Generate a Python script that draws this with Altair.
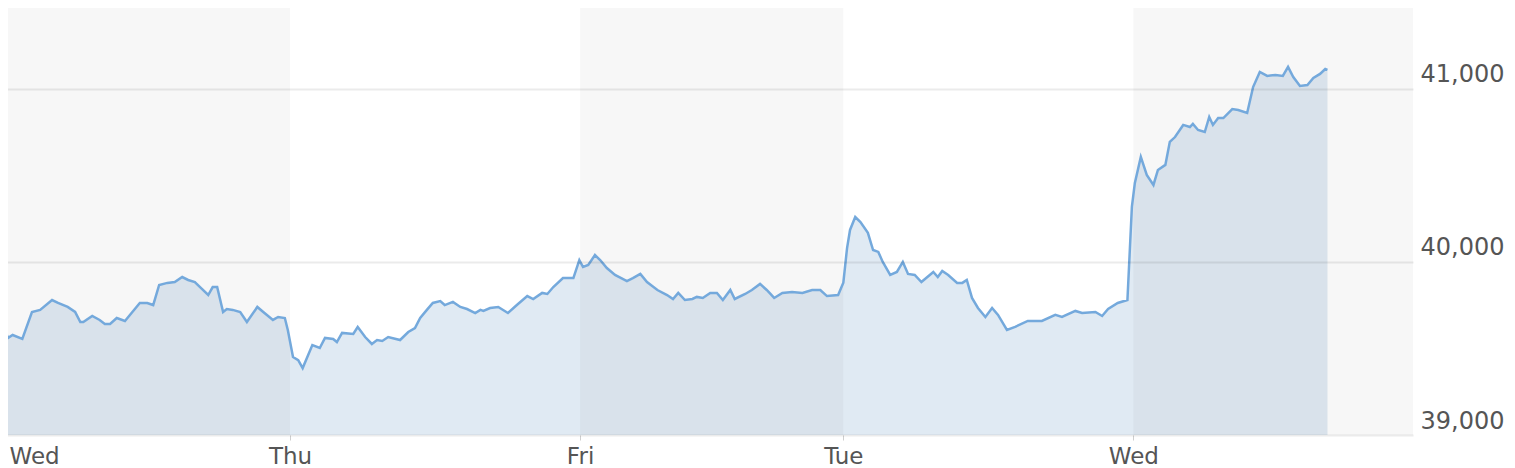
import altair as alt
import pandas as pd

# elapsed trading minutes and index level
t_wed1 = [0, 11, 17, 30, 43, 54, 70, 78, 91, 101, 108, 112, 124, 134, 141, 148, 157, 168, 178, 188, 198, 206,
          214, 225, 235, 245, 253, 262, 269, 280, 286, 292, 300, 305, 313, 323, 332, 346, 354, 367, 374, 383, 387]
v_wed1 = [39665, 39561, 39578, 39555, 39711, 39723, 39780, 39763, 39740, 39711, 39653, 39653, 39688, 39665, 39642,
          39642, 39676, 39659, 39711, 39763, 39763, 39751, 39867, 39879, 39884, 39913, 39896, 39884, 39855, 39809,
          39855, 39855, 39711, 39728, 39723, 39711, 39653, 39740, 39711, 39665, 39682, 39676, 39607]

t_thu = [394, 401, 407, 420, 430, 437, 448, 453, 460, 475, 481, 491, 500, 507, 514, 522, 538, 549, 558, 565, 574,
         582, 592, 598, 609, 619, 628, 639, 646, 650, 659, 670, 683, 695, 709, 717, 729, 736, 744, 757, 771]
v_thu = [39451, 39433, 39387, 39520, 39503, 39561, 39555, 39537, 39590, 39584, 39624, 39566, 39526, 39549, 39543,
         39566, 39549, 39595, 39618, 39676, 39723, 39763, 39774, 39751, 39769, 39740, 39728, 39705, 39723, 39717,
         39734, 39740, 39705, 39751, 39803, 39786, 39821, 39815, 39855, 39907, 39907]

t_fri = [779, 784, 791, 800, 807, 816, 827, 843, 851, 861, 870, 884, 897, 905, 912, 921, 931, 937, 945, 955, 964,
         972, 982, 988, 1002, 1011, 1022, 1031, 1041, 1052, 1065, 1079, 1092, 1103, 1112, 1127]
v_fri = [40011, 39971, 39983, 40040, 40011, 39965, 39925, 39890, 39907, 39931, 39884, 39838, 39809, 39786, 39821,
         39780, 39786, 39798, 39792, 39821, 39821, 39780, 39838, 39786, 39815, 39838, 39873, 39838, 39792, 39821,
         39827, 39821, 39838, 39838, 39803, 39809]

t_tue = [1134, 1139, 1143, 1150, 1157, 1167, 1174, 1181, 1187, 1197, 1206, 1214, 1221, 1230, 1239, 1247, 1255,
         1261, 1267, 1275, 1287, 1294, 1300, 1307, 1315, 1325, 1334, 1342, 1354, 1365, 1382, 1401, 1419, 1428,
         1446, 1455, 1473, 1482, 1490, 1503, 1516]
v_tue = [39880, 40080, 40185, 40260, 40231, 40168, 40069, 40058, 40000, 39925, 39942, 40000, 39931, 39925, 39884,
         39913, 39942, 39913, 39948, 39925, 39879, 39879, 39896, 39792, 39734, 39682, 39734, 39694, 39607, 39625,
         39659, 39659, 39694, 39682, 39717, 39705, 39711, 39688, 39728, 39763, 39780]

t_wed2 = [1522, 1526, 1534, 1542, 1551, 1557, 1567, 1573, 1580, 1591, 1600, 1604, 1611, 1620, 1626, 1631, 1638,
          1645, 1657, 1665, 1677, 1685, 1694, 1704, 1715, 1725, 1732, 1739, 1748, 1758, 1766, 1775, 1782, 1785]
v_wed2 = [40318, 40457, 40607, 40503, 40445, 40532, 40561, 40694, 40722, 40792, 40780, 40798, 40763, 40751, 40838,
          40792, 40832, 40832, 40884, 40878, 40861, 41011, 41098, 41075, 41081, 41075, 41127, 41069, 41017, 41023,
          41063, 41087, 41115, 41110]

day_starts = [0, 390, 780, 1134, 1524]
day_labels = ["Wed", "Thu", "Fri", "Tue", "Wed"]
band_start = [0, 780, 1524]
band_end = [390, 1134, 1900]
y_ticks = [39000, 40000, 41000]
x_domain = [0, 1900]
y_domain = [39000, 41514]

df = pd.DataFrame({
    "t": t_wed1 + t_thu + t_fri + t_tue + t_wed2,
    "v": v_wed1 + v_thu + v_fri + v_tue + v_wed2,
})
bands = pd.DataFrame({"start": band_start, "end": band_end})

FONT = "DejaVu Sans"
label_expr = ("[" + ",".join(f"'{d}'" for d in day_labels) + "][indexof(["
              + ",".join(str(p) for p in day_starts) + "], datum.value)]")

xscale = alt.Scale(domain=x_domain, nice=False, zero=False)
yscale = alt.Scale(domain=y_domain, nice=False, zero=False)

x_axis = alt.Axis(values=day_starts, labelExpr=label_expr, labelFlush=True, labelFlushOffset=-9,
                  grid=False, domain=False,
                  ticks=True, tickColor="#cfcfcf", tickSize=5, tickWidth=1, labelFontSize=23,
                  labelColor="#555555", labelFont=FONT, labelPadding=5, title=None)
y_axis = alt.Axis(orient="right", values=y_ticks, format=",d", grid=True, gridColor="#000000",
                  gridOpacity=0.08, gridWidth=2, ticks=False, domain=False, labelFontSize=24,
                  labelColor="#555555", labelFont=FONT, labelPadding=7, labelOffset=-14,
                  labelAlign="left", labelBaseline="middle", title=None, zindex=1)

area = alt.Chart(df).mark_area(color="#e0eaf3", opacity=1).encode(
    x=alt.X("t:Q", scale=xscale, axis=x_axis),
    y=alt.Y("v:Q", scale=yscale, axis=y_axis),
    y2=alt.datum(39000),
)

band_layer = alt.Chart(bands).mark_rect(color="#000000", opacity=0.03).encode(
    x=alt.X("start:Q", scale=xscale, axis=x_axis),
    x2="end:Q",
)

line = alt.Chart(df).mark_line(color="#74a9dc", strokeWidth=2.5).encode(
    x=alt.X("t:Q", scale=xscale, axis=x_axis),
    y=alt.Y("v:Q", scale=yscale, axis=y_axis),
)

chart = alt.layer(area, band_layer, line).properties(
    width=1413, height=435,
    padding={"left": -13, "top": -8, "right": 0, "bottom": 0},
    background="#ffffff",
).configure_view(stroke=None)

chart.save("out.html", embed_options={"renderer": "svg", "actions": False})
